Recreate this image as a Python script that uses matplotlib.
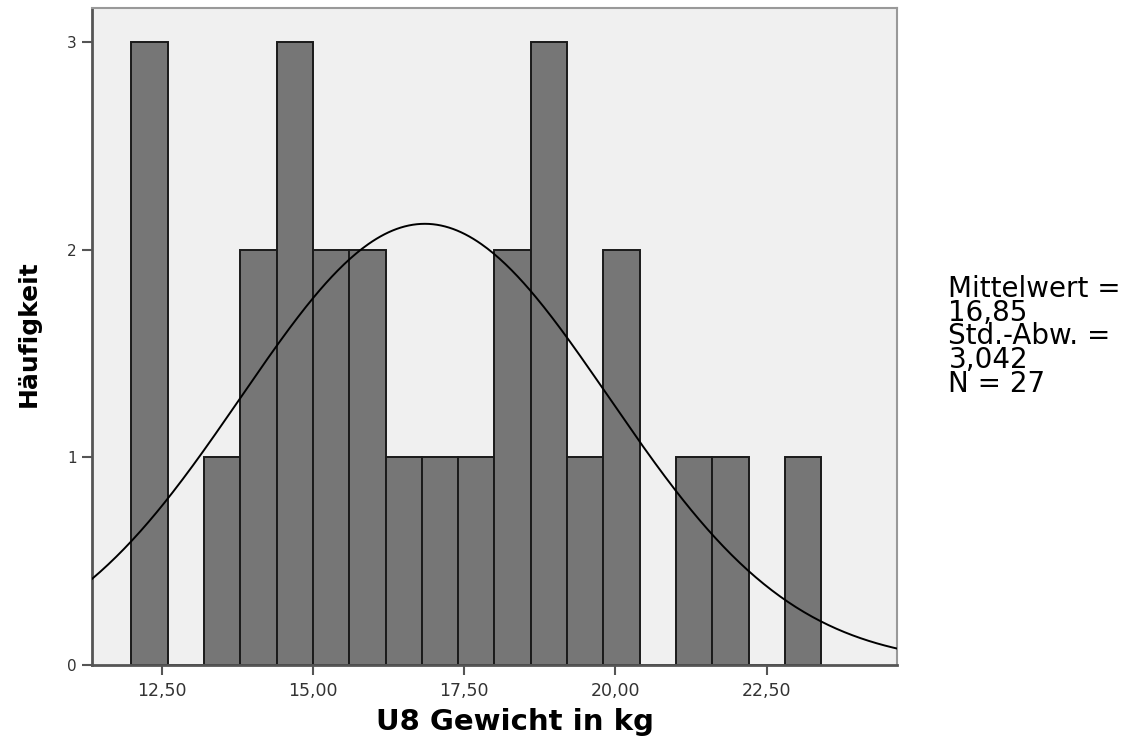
import numpy as np
import matplotlib.pyplot as plt

# histogram bins (width 0,6 kg) and counts
bin_edges = [12.0, 12.6, 13.2, 13.8, 14.4, 15.0, 15.6, 16.2, 16.8, 17.4,
             18.0, 18.6, 19.2, 19.8, 20.4, 21.0, 21.6, 22.2, 22.8, 23.4]
counts = [3, 0, 1, 2, 3, 2, 2, 1, 1, 1, 2, 3, 1, 2, 0, 1, 1, 0, 1]

mean = 16.85
std = 3.042
n = 27

xticks = [12.5, 15.0, 17.5, 20.0, 22.5]
xtick_labels = ["12,50", "15,00", "17,50", "20,00", "22,50"]
yticks = [0, 1, 2, 3]

fig = plt.figure(figsize=(11.44, 7.44), dpi=100)
ax = fig.add_axes([0.0804, 0.1062, 0.7036, 0.8831])
ax.set_facecolor("#f0f0f0")

lefts = np.array(bin_edges[:-1])
widths = np.diff(bin_edges)
ax.bar(lefts, counts, width=widths, align="edge", color="#767676",
       edgecolor="#1a1a1a", linewidth=1.4, zorder=2)

# normal curve scaled to the histogram
xs = np.linspace(11.35, 24.65, 400)
bw = widths[0]
ys = n * bw * np.exp(-0.5 * ((xs - mean) / std) ** 2) / (std * np.sqrt(2 * np.pi))
ax.plot(xs, ys, color="black", linewidth=1.4, zorder=3)

ax.set_xlim(11.35, 24.65)
ax.set_ylim(0, 3.164)
ax.set_xticks(xticks)
ax.set_xticklabels(xtick_labels)
ax.set_yticks(yticks)
ax.tick_params(direction="out", length=7, width=1.5, color="#555555",
               labelcolor="#333333")
ax.tick_params(axis="x", labelsize=12.5, pad=5)
ax.tick_params(axis="y", labelsize=11, pad=4)

for side in ["left", "bottom"]:
    ax.spines[side].set_color("#555555")
    ax.spines[side].set_linewidth(2)
for side in ["top", "right"]:
    ax.spines[side].set_color("#999999")
    ax.spines[side].set_linewidth(1.5)

ax.set_xlabel("U8 Gewicht in kg", fontsize=21, fontweight="bold",
              family="DejaVu Sans", labelpad=6)
ax.xaxis.label.set_x(0.526)
ax.set_ylabel("Häufigkeit", fontsize=18, fontweight="bold",
              family="DejaVu Sans", labelpad=19)
ax.yaxis.label.set_y(0.505)

fig.text(0.829, 0.630, "Mittelwert =\n16,85\nStd.-Abw. =\n3,042\nN = 27",
         fontsize=20, va="top", ha="left", linespacing=0.8, color="black")

fig.savefig("out.png", dpi=100)
